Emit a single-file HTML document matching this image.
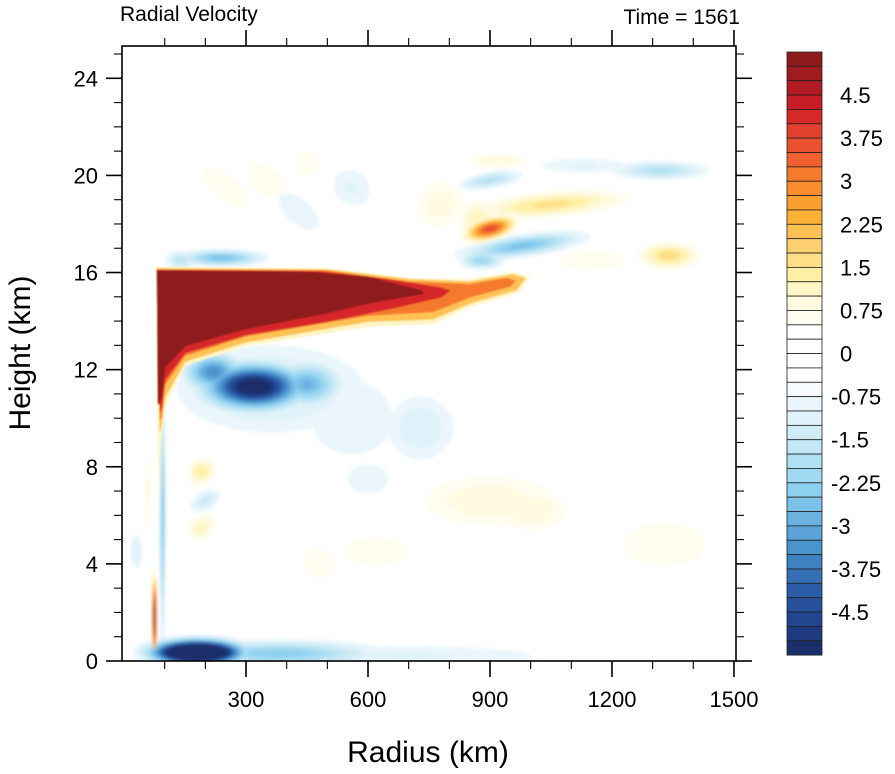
<!DOCTYPE html>
<html><head><meta charset="utf-8">
<style>
html,body{margin:0;padding:0;background:#fff;}
svg{display:block;font-family:"Liberation Sans",sans-serif;}
</style></head>
<body>
<svg id="chart" width="895" height="774" viewBox="0 0 895 774">
  <defs>
    <clipPath id="plotClip"><rect x="122" y="46" width="614" height="615"/></clipPath>
    <filter id="soft" x="-10%" y="-10%" width="120%" height="120%"><feGaussianBlur stdDeviation="1.5"/></filter>
    <filter id="soft2" x="-5%" y="-5%" width="110%" height="110%"><feGaussianBlur stdDeviation="0.9"/></filter>
  </defs>
  <rect x="122" y="46" width="614" height="615" fill="#fff"/>
  <g id="field" clip-path="url(#plotClip)">
    <g id="blobs" filter="url(#soft)"></g>
    <g id="jet" filter="url(#soft2)"></g>
  </g>
  <g id="axes"></g>
  <g id="cbar"></g>
  <text x="120" y="21" font-size="21" fill="#000">Radial Velocity</text>
  <text x="740" y="24" font-size="21" text-anchor="end" fill="#000">Time = 1561</text>
  <text x="428" y="762" font-size="30" text-anchor="middle" fill="#000">Radius (km)</text>
  <text transform="translate(30,353) rotate(-90)" font-size="30" text-anchor="middle" fill="#000">Height (km)</text>
</svg>
<script>
// ---- data ----
const xTicks = [300, 600, 900, 1200, 1500];
const yTicks = [0, 4, 8, 12, 16, 20, 24];
const cbarLabels = [4.5, 3.75, 3, 2.25, 1.5, 0.75, 0, -0.75, -1.5, -2.25, -3, -3.75, -4.5];
const posColors = ["#8e1a1c","#a01b20","#b31b24","#c61c27","#d7282a","#e2402e","#e95130","#f06030","#f57a2e","#f98d30","#fba030","#fdb035","#fec254","#fed06f","#fede87","#fff0a5","#fff5c5","#fffae0","#fffdf0","#ffffff","#ffffff"];
const negColors = ["#ffffff","#ffffff","#f5fbff","#eaf6fc","#e0f2fa","#d2ecf7","#c2e7f5","#b0e0f3","#a0d9f2","#8ed0f0","#7cc1e8","#6cb2e0","#5ba3d8","#4b93cd","#3f82c2","#356fb6","#2b5ca8","#26509c","#224590","#1f3a80","#1c2e6a"];
// features: radius (km), height (km), half-width (km), half-height (km), peak value (m/s), tilt (deg)
const blobR = [360,560,730,600,900,1000,1330,620,480,190,190,200,60,30,  320,220,450,95,180,380,700,75,90,  240,140,880,980,1050,900,1340,1150,1320,1130,900,920,780,250,350,450,560,430,870];
const blobZ = [11.2,10,9.6,7.5,6.6,6.2,4.8,4.5,4.0,7.8,5.5,6.6,7,4.5,  11.3,11.9,11.4,6,0.35,0.3,0.2,1.8,8,  16.6,16.5,16.5,17.1,18.8,17.8,16.7,16.5,20.2,20.4,19.8,20.6,18.8,19.5,19.8,20.5,19.5,18.5,18.2];
const blobW = [230,100,80,50,160,90,100,80,40,40,40,40,10,15,  170,90,100,8,160,280,300,8,6,  120,40,60,170,200,80,80,80,120,100,80,70,60,30,35,30,40,30,50];
const blobH = [1.8,1.5,1.3,0.6,1.0,0.8,0.9,0.6,0.6,0.6,0.5,0.4,1.5,0.7,  1.3,1.0,1.1,6,0.75,0.6,0.4,2.2,6.5,  0.4,0.4,0.4,0.5,0.55,0.55,0.6,0.4,0.4,0.3,0.35,0.3,0.9,1.2,0.9,0.5,0.8,1,0.8];
const blobV = [-1.2,-0.7,-1.0,-0.6,1.0,1.0,0.7,0.6,0.6,1.4,1.2,-1.2,0.8,-1,  -5.5,-3.2,-2.6,-2.5,-9,-2.2,-0.8,6,1.3,  -2.4,-1.5,-2,-2.4,1.6,3.8,1.7,0.7,-1.6,-0.8,-1.6,1,0.9,0.7,0.6,0.7,-0.8,-0.6,1.2];
const blobA = [0,0,0,0,0,0,0,0,0,-30,-30,-30,0,0,  0,0,0,0,0,0,0,0,-2,  0,0,0,-8,-5,-15,0,0,0,0,-10,0,-40,-50,-50,-40,-50,-50,-30];
// outflow jet contours: value, r-outline, z-outline
const jetLevels = [1.0, 2.0, 3.0, 4.0, 5.5];
const jetOutlineR = [
  [80,500,700,850,960,995,970,850,760,600,300,150,100,88],
  [81,500,700,850,955,985,965,850,760,600,300,150,100,89],
  [82,500,700,850,940,960,950,850,760,600,300,150,100,90],
  [82,480,650,780,800,780,650,500,300,150,100,90],
  [82,450,600,730,735,600,500,300,150,100,90,85]
];
const jetOutlineZ = [
  [16.2,16.15,15.75,15.7,16.0,15.8,15.2,14.6,13.9,13.8,13.0,12.2,10.5,9],
  [16.15,16.1,15.7,15.6,15.9,15.75,15.3,14.75,14.1,14.0,13.15,12.35,10.9,9.5],
  [16.1,16.05,15.6,15.5,15.75,15.65,15.45,15.0,14.4,14.25,13.4,12.6,11.4,10],
  [16.08,16.03,15.7,15.35,15.25,15.0,14.5,14.0,13.45,12.7,11.6,10.3],
  [16.05,16.0,15.8,15.25,15.15,14.75,14.35,13.7,13.0,12.1,10.9,10.6]
];

// ---- axes ----
const X0=122, X1=736, Y0=661, Y1=46;
const R_MIN=-5, R_MAX=1505, Z_MIN=0, Z_MAX=25.33;
function xs(r){ return X0 + (r - R_MIN) / (R_MAX - R_MIN) * (X1 - X0); }
function ys(z){ return Y0 - (z - Z_MIN) / (Z_MAX - Z_MIN) * (Y0 - Y1); }
const NS="http://www.w3.org/2000/svg";
function mk(tag, attrs, parent){ const e=document.createElementNS(NS,tag); for(const k in attrs) e.setAttribute(k,attrs[k]); parent.appendChild(e); return e; }
function colorFor(v){
  const k=Math.floor(Math.abs(v)/0.25);
  return v>0 ? posColors[Math.max(0,20-k)] : negColors[Math.min(20,k+1)];
}

const blobsG=document.getElementById('blobs');
for(let k=2;k<=20;k++){
  const L=0.25*k;
  for(let i=0;i<blobR.length;i++){
    const v=blobV[i], av=Math.abs(v);
    if(L>=av) continue;
    const norm=Math.log(av/0.5);
    const s=Math.sqrt(Math.log(av/L)/norm);
    const rx=(xs(blobW[i])-xs(0))*s, ry=(ys(0)-ys(blobH[i]))*s;
    const col = v>0 ? posColors[Math.max(0,20-k)] : negColors[Math.min(20,k+1)];
    const e=mk('ellipse',{cx:0,cy:0,rx:rx,ry:ry,fill:col,transform:`translate(${xs(blobR[i])},${ys(blobZ[i])}) rotate(${blobA[i]})`},blobsG);
    
    
  }
}
const jetG=document.getElementById('jet');
jetLevels.forEach((v,j)=>{
  const pts=jetOutlineR[j].map((r,q)=>xs(r).toFixed(1)+','+ys(jetOutlineZ[j][q]).toFixed(1)).join(' ');
  const p=mk('polygon',{points:pts,fill:colorFor(v),'stroke-linejoin':'round',stroke:colorFor(v),'stroke-width':1.5},jetG);
  
  
});

const axes=document.getElementById('axes');
const fr=mk('rect',{x:X0,y:Y1,width:X1-X0,height:Y0-Y1,fill:'none',stroke:'#000','stroke-width':1.6},axes);


for(let r=100;r<=1500;r+=100){
  const major = xTicks.includes(r);
  const len = major?16:8;
  const x=xs(r);
  const t1=mk('line',{x1:x,x2:x,y1:Y0,y2:Y0+len,stroke:'#000','stroke-width':major?1.6:1.1},axes);
  
  
  const t2=mk('line',{x1:x,x2:x,y1:Y1,y2:Y1-len,stroke:'#000','stroke-width':major?1.6:1.1},axes);
  
  
}
xTicks.forEach(r=>{
  const t=mk('text',{x:xs(r),y:Y0+46,'font-size':22,'text-anchor':'middle'},axes);
  t.textContent=r;
  
  
});
for(let z=0;z<=25;z+=1){
  const major = yTicks.includes(z);
  const len = major?16:8;
  const y=ys(z);
  const t1=mk('line',{x1:X0,x2:X0-len,y1:y,y2:y,stroke:'#000','stroke-width':major?1.6:1.1},axes);
  
  
  const t2=mk('line',{x1:X1,x2:X1+len,y1:y,y2:y,stroke:'#000','stroke-width':major?1.6:1.1},axes);
  
  
}
yTicks.forEach(z=>{
  const t=mk('text',{x:X0-24,y:ys(z)+8,'font-size':22,'text-anchor':'end'},axes);
  t.textContent=z;
  
  
});

// ---- colorbar ----
const cb=document.getElementById('cbar');
const CBX=787, CBW=35, CBT=52, BOX=14.36;
const allColors=posColors.concat(negColors);
allColors.forEach((c,i)=>{
  const r=mk('rect',{x:CBX,y:CBT+i*BOX,width:CBW,height:BOX,fill:c,stroke:'#222','stroke-width':0.8},cb);
  
  
});
function cbY(b){ return CBT + 21*BOX - b/0.25*BOX; }
cbarLabels.forEach(b=>{
  const t=mk('text',{x:b<0?831:840,y:cbY(b)+8,'font-size':22},cb);
  t.textContent = b<0 ? '-'+Math.abs(b) : String(b);
  
  
});
</script>
</body></html>
